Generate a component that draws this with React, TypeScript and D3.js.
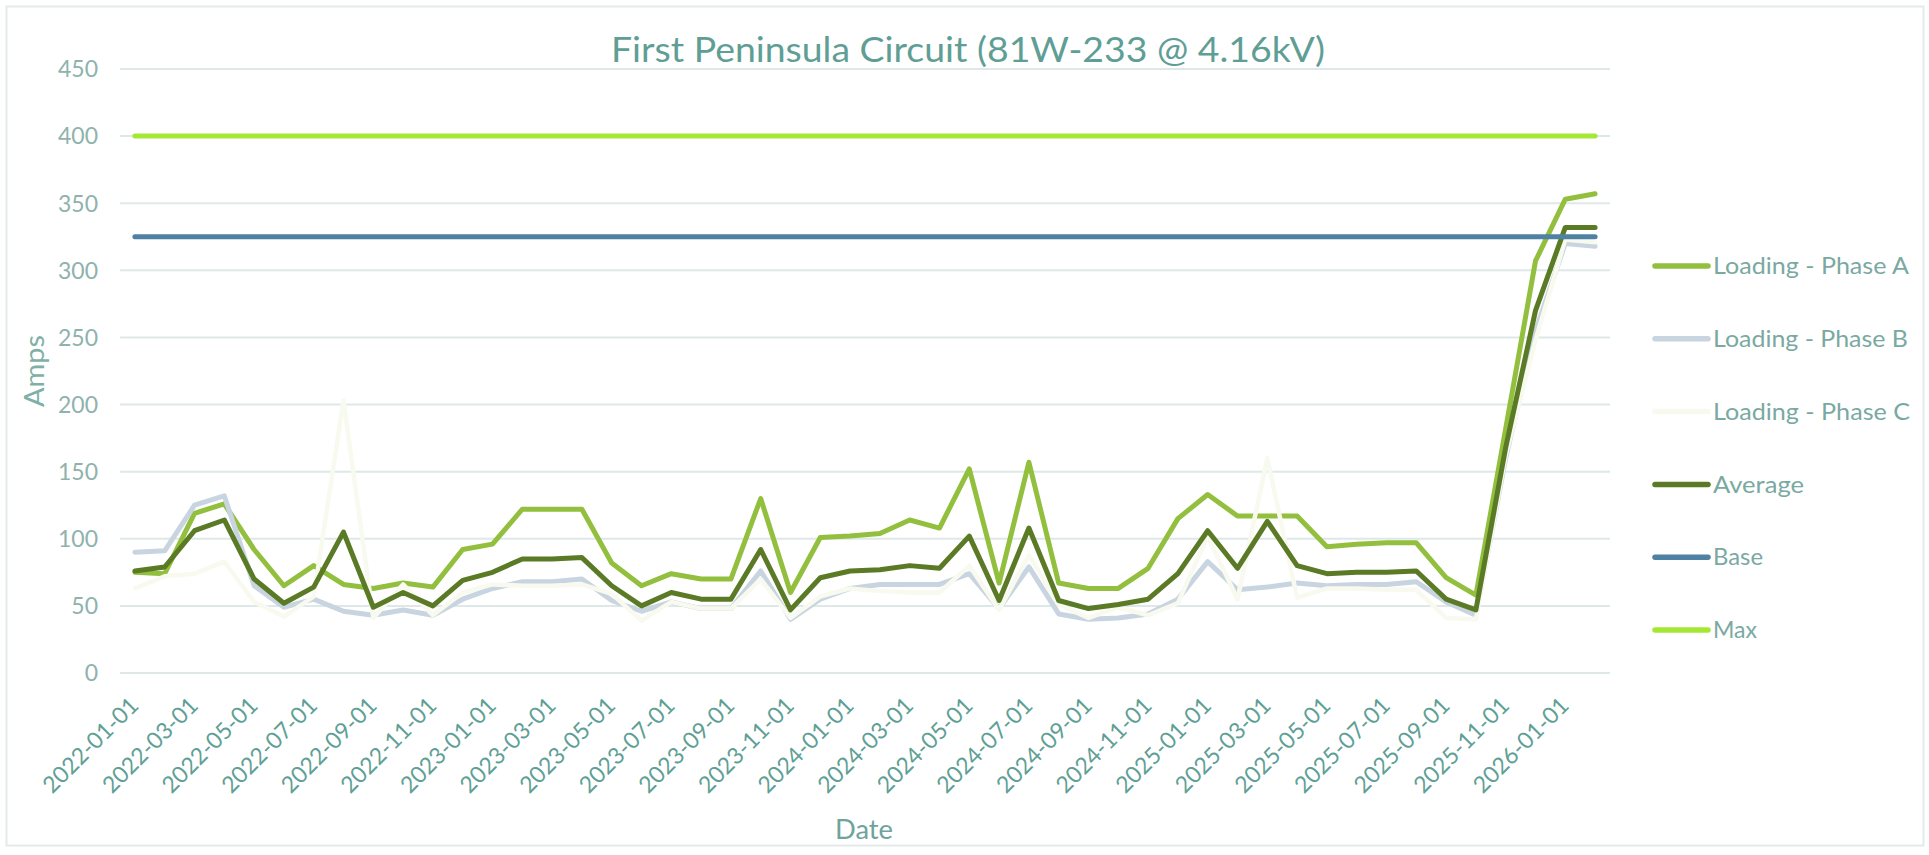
import React from "react";
import * as d3 from "d3";

const MONTHS: string[] = [
  "2022-01-01","2022-02-01","2022-03-01","2022-04-01","2022-05-01","2022-06-01",
  "2022-07-01","2022-08-01","2022-09-01","2022-10-01","2022-11-01","2022-12-01",
  "2023-01-01","2023-02-01","2023-03-01","2023-04-01","2023-05-01","2023-06-01",
  "2023-07-01","2023-08-01","2023-09-01","2023-10-01","2023-11-01","2023-12-01",
  "2024-01-01","2024-02-01","2024-03-01","2024-04-01","2024-05-01","2024-06-01",
  "2024-07-01","2024-08-01","2024-09-01","2024-10-01","2024-11-01","2024-12-01",
  "2025-01-01","2025-02-01","2025-03-01","2025-04-01","2025-05-01","2025-06-01",
  "2025-07-01","2025-08-01","2025-09-01","2025-10-01","2025-11-01","2025-12-01",
  "2026-01-01","2026-02-01",
];

const PHASE_A: number[] = [
  75,74,119,126,92,65,80,66,63,67,64,92,
  96,122,122,122,82,65,74,70,70,130,60,101,
  102,104,114,108,152,67,157,67,63,63,78,115,
  133,117,117,117,94,96,97,97,71,58,182,307,
  353,357,
];
const PHASE_B: number[] = [
  90,91,125,132,65,49,55,46,43,47,43,55,
  63,68,68,70,54,46,53,48,48,76,40,55,
  63,66,66,66,74,48,79,44,40,41,44,55,
  83,62,64,67,65,66,66,68,53,43,160,255,
  320,318,
];
const PHASE_C: number[] = [
  63,72,74,83,53,42,57,203,41,66,43,60,
  66,65,65,66,59,39,53,48,48,70,41,57,
  63,61,60,60,80,47,88,51,41,49,43,52,
  102,55,160,56,63,63,62,62,41,40,162,248,
  323,321,
];
const AVERAGE: number[] = [
  76,79,106,114,70,52,64,105,49,60,50,69,
  75,85,85,86,65,50,60,55,55,92,47,71,
  76,77,80,78,102,54,108,54,48,51,55,74,
  106,78,113,80,74,75,75,76,55,47,168,270,
  332,332,
];
const BASE_VALUE = 325;
const MAX_VALUE = 400;
const Y_TICKS: number[] = [0, 50, 100, 150, 200, 250, 300, 350, 400, 450];

const TITLE = "First Peninsula Circuit (81W-233 @ 4.16kV)";

const SERIES = [
  { name: "Loading - Phase A", values: PHASE_A, color: "#93bf3e", width: 5, textW: 196 },
  { name: "Loading - Phase B", values: PHASE_B, color: "#c8d5e0", width: 5, textW: 195 },
  { name: "Loading - Phase C", values: PHASE_C, color: "#f8faef", width: 4.5, textW: 197 },
  { name: "Average", values: AVERAGE, color: "#5b7a25", width: 5, textW: 91 },
  { name: "Base", values: MONTHS.map(() => BASE_VALUE), color: "#4f82a2", width: 5, textW: 50 },
  { name: "Max", values: MONTHS.map(() => MAX_VALUE), color: "#a5e834", width: 5, textW: 44 },
];

const W = 1929;
const H = 855;
const FONT = "Lato, 'Open Sans', sans-serif";

export default function App() {
  const x = d3.scaleBand<string>().domain(MONTHS).range([120, 1610]).paddingInner(0).paddingOuter(0);
  const cx = (d: string) => (x(d) as number) + x.bandwidth() / 2;
  const y = d3.scaleLinear().domain([0, 450]).range([673, 69]);

  const line = (vals: number[]) =>
    d3.line<number>().x((_, i) => cx(MONTHS[i])).y((v) => y(v))(vals) as string;

  return (
    <svg width={W} height={H} style={{ position: "absolute", left: 0, top: 0, background: "#fff" }} fontFamily={FONT}>
      <rect x={6.5} y={6.5} width={1917} height={839} fill="#fff" stroke="#e4eaea" strokeWidth={2} />
      {Y_TICKS.map((t) => (
        <g key={t}>
          <line x1={120} x2={1610} y1={y(t)} y2={y(t)} stroke="#dfe8e8" strokeWidth={2} />
          <text x={98} y={y(t)} dy="0.36em" textAnchor="end" fontSize={23} fill="#8fb2ad">{t}</text>
        </g>
      ))}
      {SERIES.map((s) => (
        <path key={s.name} d={line(s.values)} fill="none" stroke={s.color} strokeWidth={s.width}
          strokeLinejoin="round" strokeLinecap="round" />
      ))}
      {MONTHS.map((m, i) =>
        i % 2 === 0 ? (
          <text key={m} transform={`translate(${cx(m) + 5},707) rotate(-45)`} textAnchor="end"
            fontSize={23} fill="#5f9f96">{m}</text>
        ) : null
      )}
      <text x={968} y={62} textAnchor="middle" fontSize={35} fill="#5f9e95"
        textLength={714} lengthAdjust="spacingAndGlyphs">{TITLE}</text>
      <text transform={`translate(44,${(y(0) + y(450)) / 2}) rotate(-90)`} textAnchor="middle" fontSize={26}
        fill="#7fb0a8" textLength={72} lengthAdjust="spacingAndGlyphs">Amps</text>
      <text x={864} y={839} textAnchor="middle" fontSize={26} fill="#6fa39b"
        textLength={58} lengthAdjust="spacingAndGlyphs">Date</text>
      {SERIES.map((s, i) => {
        const ly = 266 + i * 72.8;
        return (
          <g key={"lg" + s.name}>
            <line x1={1655} x2={1708} y1={ly} y2={ly} stroke={s.color} strokeWidth={5.5} strokeLinecap="round" />
            <text x={1713} y={ly} dy="0.36em" fontSize={23} fill="#7aa9a2"
              textLength={s.textW} lengthAdjust="spacingAndGlyphs">{s.name}</text>
          </g>
        );
      })}
    </svg>
  );
}
